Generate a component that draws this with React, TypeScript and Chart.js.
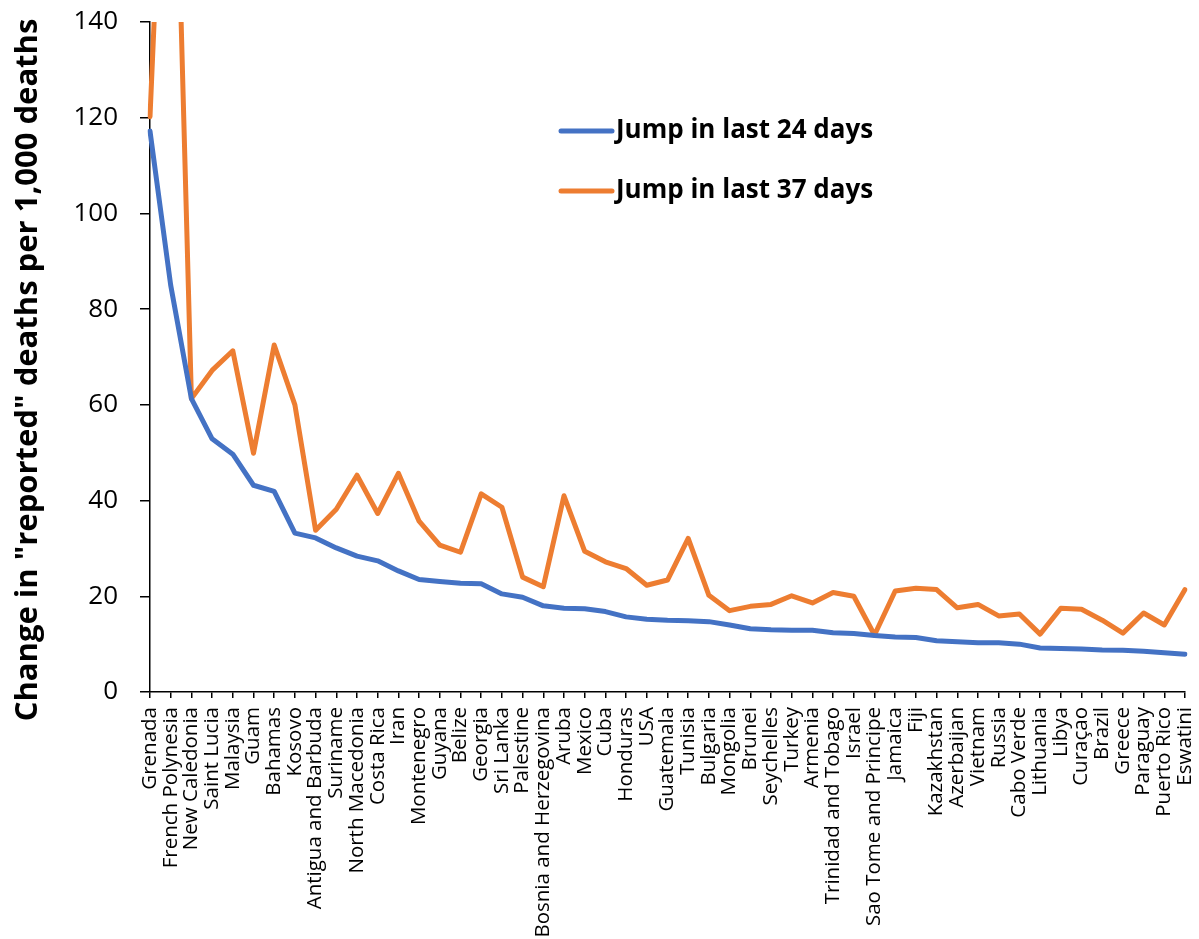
import React, { useEffect, useRef } from "react";
import { Chart, registerables } from "chart.js";

Chart.register(...registerables);

const countries = [
  "Grenada", "French Polynesia", "New Caledonia", "Saint Lucia", "Malaysia", "Guam", "Bahamas", "Kosovo",
  "Antigua and Barbuda", "Suriname", "North Macedonia", "Costa Rica", "Iran", "Montenegro", "Guyana", "Belize",
  "Georgia", "Sri Lanka", "Palestine", "Bosnia and Herzegovina", "Aruba", "Mexico", "Cuba", "Honduras", "USA",
  "Guatemala", "Tunisia", "Bulgaria", "Mongolia", "Brunei", "Seychelles", "Turkey", "Armenia",
  "Trinidad and Tobago", "Israel", "Sao Tome and Principe", "Jamaica", "Fiji", "Kazakhstan", "Azerbaijan",
  "Vietnam", "Russia", "Cabo Verde", "Lithuania", "Libya", "Curaçao", "Brazil", "Greece", "Paraguay",
  "Puerto Rico", "Eswatini",
];

const jump24 = [
  117.2, 85, 61.3, 52.9, 49.7, 43.2, 41.9, 33.2, 32.2, 30.1, 28.4, 27.4, 25.3, 23.5, 23.1, 22.7,
  22.6, 20.5, 19.8, 18.0, 17.5, 17.4, 16.8, 15.7, 15.2, 15.0, 14.9, 14.7, 14.0, 13.2, 13.0, 12.9,
  12.9, 12.4, 12.2, 11.8, 11.5, 11.4, 10.7, 10.5, 10.3, 10.3, 10.0, 9.2, 9.1, 9.0, 8.8, 8.7, 8.5,
  8.2, 7.9,
];

const jump37 = [
  120.2, 220, 61.3, 67.2, 71.3, 49.9, 72.5, 60.0, 33.8, 38.2, 45.3, 37.3, 45.7, 35.7, 30.7, 29.2,
  41.4, 38.6, 24.0, 22.0, 41.0, 29.4, 27.2, 25.8, 22.3, 23.4, 32.1, 20.2, 17.0, 17.9, 18.3, 20.1,
  18.6, 20.8, 20.0, 11.9, 21.1, 21.7, 21.4, 17.6, 18.3, 15.9, 16.3, 12.1, 17.5, 17.3, 15.0, 12.3,
  16.5, 14.0, 21.4,
];

const seriesLabels = ["Jump in last 24 days", "Jump in last 37 days"];
const seriesColors = ["#4472C4", "#ED7D31"];
const yTitle = 'Change in "reported" deaths per 1,000 deaths';

const FONT = "'Open Sans', 'Noto Sans', sans-serif";

const legendPlugin = {
  id: "insideLegend",
  afterDraw(chart: any) {
    const ctx = chart.ctx;
    ctx.save();
    chart.data.datasets.forEach((ds: any, i: number) => {
      const y = 131 + i * 60;
      ctx.strokeStyle = ds.borderColor;
      ctx.lineWidth = 5;
      ctx.lineCap = "round";
      ctx.beginPath();
      ctx.moveTo(561, y);
      ctx.lineTo(612, y);
      ctx.stroke();
      ctx.fillStyle = "#000";
      ctx.font = `bold 26px ${FONT}`;
      ctx.textBaseline = "middle";
      ctx.textAlign = "left";
      ctx.fillText(ds.label, 616, y);
    });
    ctx.restore();
  },
};

const yTitlePlugin = {
  id: "yTitle",
  afterDraw(chart: any) {
    const ctx = chart.ctx;
    ctx.save();
    ctx.translate(28, 370);
    ctx.rotate(-Math.PI / 2);
    ctx.fillStyle = "#000";
    ctx.font = `bold 31px ${FONT}`;
    ctx.textAlign = "center";
    ctx.textBaseline = "middle";
    ctx.fillText(yTitle, 0, 0);
    ctx.restore();
  },
};

export default function App() {
  const ref = useRef<HTMLCanvasElement | null>(null);

  useEffect(() => {
    if (!ref.current) return;
    const chart = new Chart(ref.current, {
      type: "line",
      data: {
        labels: countries,
        datasets: [
          {
            label: seriesLabels[0],
            data: jump24,
            borderColor: seriesColors[0],
            backgroundColor: seriesColors[0],
            borderWidth: 5,
            pointRadius: 0,
            borderJoinStyle: "round",
            borderCapStyle: "round",
            tension: 0,
          },
          {
            label: seriesLabels[1],
            data: jump37,
            borderColor: seriesColors[1],
            backgroundColor: seriesColors[1],
            borderWidth: 5,
            pointRadius: 0,
            borderJoinStyle: "round",
            borderCapStyle: "round",
            tension: 0,
          },
        ],
      },
      options: {
        responsive: false,
        animation: false,
        layout: { padding: { top: 22, right: 14, left: 0, bottom: 0 } },
        plugins: {
          legend: { display: false },
          tooltip: { enabled: false },
        },
        scales: {
          x: {
            type: "category",
            offset: false,
            grid: {
              drawOnChartArea: false,
              drawTicks: true,
              tickLength: 6,
              color: "#000",
              lineWidth: 1.5,
            },
            border: { color: "#000", width: 1.5 },
            ticks: {
              autoSkip: false,
              maxRotation: 90,
              minRotation: 90,
              padding: 9,
              color: "#000",
              font: { family: FONT, size: 20.5 },
            },
            afterFit(scale: any) {
              scale.height = 247;
              scale.paddingLeft = 0;
              scale.paddingRight = 0;
            },
          },
          y: {
            min: 0,
            max: 140,
            grid: {
              drawOnChartArea: false,
              drawTicks: true,
              tickLength: 10,
              color: "#000",
              lineWidth: 1.5,
            },
            border: { color: "#000", width: 1.5 },
            ticks: {
              stepSize: 20,
              padding: 22,
              color: "#000",
              font: { family: FONT, size: 26 },
            },
            title: { display: false },
            afterFit(scale: any) {
              scale.width = 150;
              scale.paddingTop = 0;
              scale.paddingBottom = 0;
            },
          },
        },
      },
      plugins: [legendPlugin, yTitlePlugin],
    } as any);
    return () => chart.destroy();
  }, []);

  return (
    <div style={{ position: "absolute", left: 0, top: 0, width: 1199, height: 939, background: "#fff" }}>
      <canvas ref={ref} width={1199} height={939} />
    </div>
  );
}
